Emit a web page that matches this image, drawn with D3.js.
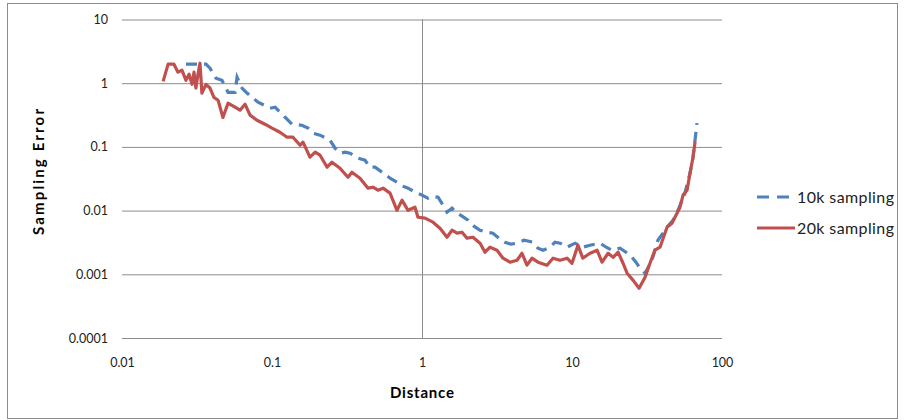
<!DOCTYPE html>
<html>
<head>
<meta charset="utf-8">
<script src="https://cdn.jsdelivr.net/npm/d3@7"></script>
<style>
  body { margin: 0; background: #fff; }
  text { font-family: Lato, "Open Sans", sans-serif; }
</style>
</head>
<body>
<svg id="chartSvg" width="904" height="420"></svg>
<script>
const chartSvg = d3.select("#chartSvg");

// tick values for both log axes
let xTicks = [0.01, 0.1, 1, 10, 100];
let yTicks = [0.0001, 0.001, 0.01, 0.1, 1, 10];
let xTickLabels = ["0.01", "0.1", "1", "10", "100"];
let yTickLabels = ["0.0001", "0.001", "0.01", "0.1", "1", "10"];

// 10k sampling (dashed blue)
let dist10k = [0.0267, 0.0331, 0.0363, 0.0386, 0.0423, 0.0464, 0.0509, 0.0567, 0.0585, 0.0631,
  0.0681, 0.0736, 0.0807, 0.0885, 0.097, 0.105, 0.113, 0.124, 0.136, 0.158,
  0.174, 0.188, 0.209, 0.244, 0.263, 0.284, 0.307, 0.331, 0.375, 0.417,
  0.45, 0.486, 0.541, 0.612, 0.681, 0.747, 0.807, 0.898, 1.0, 1.096,
  1.166, 1.28, 1.38, 1.468, 1.585, 1.711, 1.849, 2.03, 2.22, 2.438,
  2.67, 2.97, 3.26, 3.57, 3.92, 4.3, 4.79, 5.5, 5.93, 6.41,
  7.13, 7.7, 8.32, 9.27, 10.5, 11.8, 13.2, 15.4, 16.9, 18.5,
  20.9, 22.9, 25.1, 26.7, 28.4, 30.7, 34.1, 37.4, 40.4, 43.0,
  47.1, 50.9, 56.6, 61.2, 64.1, 68.1];
let err10k = [1.99, 1.99, 1.99, 1.72, 1.2, 1.11, 0.72, 0.72, 1.24, 0.84,
  0.7, 0.6, 0.503, 0.452, 0.405, 0.42, 0.351, 0.282, 0.227, 0.219,
  0.197, 0.164, 0.153, 0.127, 0.0954, 0.0796, 0.0826, 0.0796, 0.0665, 0.0618,
  0.048, 0.048, 0.0401, 0.0323, 0.0279, 0.0242, 0.0225, 0.0195, 0.0175, 0.0157,
  0.0168, 0.0162, 0.0122, 0.00945, 0.0109, 0.0091, 0.00817, 0.00707, 0.00569, 0.00492,
  0.00458, 0.00442, 0.00369, 0.00319, 0.00297, 0.00308, 0.00343, 0.00319, 0.00257, 0.00239,
  0.00266, 0.00319, 0.00308, 0.00266, 0.00308, 0.00266, 0.00286, 0.00308, 0.00266, 0.00239,
  0.00257, 0.00222, 0.00185, 0.00155, 0.00125, 0.00104, 0.00166, 0.00343, 0.00442, 0.00549,
  0.00707, 0.0101, 0.0188, 0.0386, 0.0689, 0.236];

// 20k sampling (solid red)
let dist20k = [0.0188, 0.0203, 0.0222, 0.0236, 0.0251, 0.0267, 0.028, 0.0293, 0.0302, 0.0311,
  0.0321, 0.0331, 0.0341, 0.0363, 0.0386, 0.041, 0.0437, 0.0471, 0.0509, 0.0567,
  0.0612, 0.0661, 0.0714, 0.0794, 0.0898, 0.1, 0.113, 0.126, 0.138, 0.154,
  0.161, 0.179, 0.194, 0.209, 0.233, 0.251, 0.284, 0.321, 0.341, 0.386,
  0.437, 0.471, 0.509, 0.55, 0.612, 0.681, 0.736, 0.807, 0.898, 0.94,
  1.047, 1.184, 1.318, 1.468, 1.585, 1.711, 1.849, 1.995, 2.188, 2.438,
  2.63, 2.84, 3.162, 3.467, 3.86, 4.3, 4.64, 5.01, 5.41, 5.93,
  6.81, 7.47, 8.32, 9.27, 10.0, 10.96, 11.8, 13.2, 14.7, 15.85,
  17.4, 18.8, 20.3, 21.9, 23.3, 25.5, 28.0, 30.7, 33.1, 35.7,
  38.6, 43.0, 46.4, 50.1, 52.5, 55.0, 58.5, 61.2, 64.1, 66.1];
let err20k = [1.07, 1.99, 1.99, 1.49, 1.6, 1.11, 1.38, 0.96, 1.49, 0.84,
  1.38, 2.06, 0.7, 0.96, 0.84, 0.6, 0.54, 0.29, 0.485, 0.42,
  0.377, 0.468, 0.315, 0.262, 0.227, 0.197, 0.17, 0.142, 0.142, 0.106,
  0.119, 0.0689, 0.0826, 0.0741, 0.048, 0.0575, 0.0463, 0.0334, 0.0401, 0.0323,
  0.0225, 0.0233, 0.0209, 0.0225, 0.0188, 0.0101, 0.0146, 0.0101, 0.0113, 0.00787,
  0.0076, 0.00658, 0.0053, 0.00382, 0.00492, 0.00442, 0.00458, 0.00369, 0.00382, 0.00308,
  0.00222, 0.00266, 0.00239, 0.00179, 0.00155, 0.00166, 0.00214, 0.00139, 0.00179, 0.00155,
  0.00139, 0.00179, 0.00166, 0.00179, 0.00149, 0.00286, 0.00179, 0.00214, 0.00239, 0.00155,
  0.00214, 0.00185, 0.00222, 0.00149, 0.00104, 0.00081, 0.000605, 0.0009, 0.00149, 0.00239,
  0.00266, 0.00549, 0.00634, 0.0091, 0.0113, 0.0175, 0.0209, 0.0386, 0.0689, 0.119];

let seriesNames = ["10k sampling", "20k sampling"];
let seriesColors = ["#4F81BD", "#C0504D"];

let xScale = d3.scaleLog().domain([0.01, 100]).range([122, 722]);
let yScale = d3.scaleLog().domain([0.0001, 10]).range([338, 19.5]);

// outer chart border
chartSvg.append("rect")
  .attr("x", 7.5).attr("y", 3.5)
  .attr("width", 890).attr("height", 415)
  .attr("fill", "white")
  .attr("stroke", "#8c8c8c")
  .attr("stroke-width", 1);

// horizontal gridlines + y labels
let yAxis = d3.axisLeft(yScale)
  .tickValues(yTicks)
  .tickSize(-(722 - 122))
  .tickPadding(14)
  .tickFormat(function (d, i) { return yTickLabels[i]; });

chartSvg.append("g")
  .attr("transform", "translate(122,0)")
  .call(yAxis)
  .call(function (g) {
    g.select(".domain").remove();
    g.selectAll(".tick line").attr("stroke", "#8c8c8c");
    g.selectAll(".tick text").attr("fill", "#222").style("font-size", "12.5px");
  });

// x labels (no tick marks, axis line is the 0.0001 gridline)
let xAxis = d3.axisBottom(xScale)
  .tickValues(xTicks)
  .tickSize(0)
  .tickPadding(20)
  .tickFormat(function (d, i) { return xTickLabels[i]; });

chartSvg.append("g")
  .attr("transform", "translate(0,338)")
  .call(xAxis)
  .call(function (g) {
    g.select(".domain").remove();
    g.selectAll(".tick text").attr("fill", "#222").style("font-size", "12.5px");
  });

// vertical axis crosses at distance 1
chartSvg.append("line")
  .attr("x1", Math.round(xScale(1)) + 0.5).attr("x2", Math.round(xScale(1)) + 0.5)
  .attr("y1", yScale(10)).attr("y2", yScale(0.0001))
  .attr("stroke", "#8c8c8c");

let line = d3.line()
  .x(function (d) { return xScale(d[0]); })
  .y(function (d) { return yScale(d[1]); });

let data10k = dist10k.map(function (d, i) { return [d, err10k[i]]; });
let data20k = dist20k.map(function (d, i) { return [d, err20k[i]]; });

chartSvg.append("path")
  .datum(data10k)
  .attr("d", line)
  .attr("fill", "none")
  .attr("stroke", seriesColors[0])
  .attr("stroke-width", 3.2)
  .attr("stroke-dasharray", "11,7");

chartSvg.append("path")
  .datum(data20k)
  .attr("d", line)
  .attr("fill", "none")
  .attr("stroke", seriesColors[1])
  .attr("stroke-width", 3.2)
  .attr("stroke-linejoin", "round");

// axis titles
chartSvg.append("text")
  .attr("x", 422).attr("y", 398)
  .attr("text-anchor", "middle")
  .style("font-size", "15px")
  .style("font-weight", "bold")
  .attr("textLength", 64)
  .text("Distance");

chartSvg.append("text")
  .attr("transform", "translate(44,172) rotate(-90)")
  .attr("text-anchor", "middle")
  .style("font-size", "15px")
  .style("font-weight", "bold")
  .attr("textLength", 126)
  .text("Sampling Error");

// legend
let legend = chartSvg.selectAll(".legend")
  .data(seriesNames)
  .enter().append("g")
  .attr("transform", function (d, i) { return "translate(757," + (197 + i * 31) + ")"; });

legend.append("line")
  .attr("x1", 0).attr("x2", 38)
  .attr("stroke", function (d, i) { return seriesColors[i]; })
  .attr("stroke-width", 3)
  .attr("stroke-dasharray", function (d, i) { return i === 0 ? "12,8" : null; });

legend.append("text")
  .attr("x", 40).attr("y", 0)
  .attr("dy", "0.35em")
  .attr("fill", "#222")
  .style("font-size", "16px")
  .attr("textLength", 97)
  .text(function (d) { return d; });
</script>
</body>
</html>
